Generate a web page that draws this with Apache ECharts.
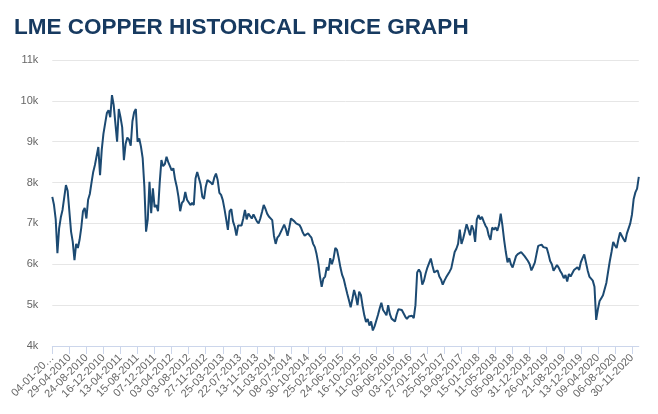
<!DOCTYPE html>
<html><head><meta charset="utf-8">
<script src="https://cdn.jsdelivr.net/npm/echarts@6/dist/echarts.min.js"></script>
<style>html,body{margin:0;padding:0;background:#fff}#c{width:658px;height:414px}</style>
</head><body><div id="c"></div>
<script>
const chartTitle = 'LME COPPER HISTORICAL PRICE GRAPH';

// x-axis tick labels (every 10th category)
const labelDates = ['04-01-2010','29-04-2010','24-08-2010','16-12-2010','13-04-2011','15-08-2011','07-12-2011',
  '03-04-2012','03-08-2012','27-11-2012','25-03-2013','22-07-2013','13-11-2013','11-03-2014','08-07-2014',
  '30-10-2014','25-02-2015','24-06-2015','16-10-2015','11-02-2016','09-06-2016','03-10-2016','27-01-2017',
  '25-05-2017','19-09-2017','15-01-2018','11-05-2018','05-09-2018','31-12-2018','26-04-2019','21-08-2019',
  '13-12-2019','09-04-2020','06-08-2020','30-11-2020'];
const stepsPerLabel = 10;
const stepsAfterLast = 4;

// LME copper price, USD/t
const prices = [
  7650,7450,7100,6270,6880,7150,7330,7290,7940,7800,
  7300,6800,6550,6100,6500,6400,6600,6900,7300,7380,
  7120,7580,7720,8000,8260,8430,8390,8870,8180,8800,
  9200,9450,9700,9770,9600,10140,9900,9450,9000,9800,
  9600,9350,8550,8950,9100,9050,8900,9500,9720,9800,
  9000,9080,8880,8600,7900,6800,7100,8020,7250,7860,
  7400,7450,7300,8000,8550,8400,8450,8630,8500,8400,
  8300,8350,8080,7900,7650,7300,7500,7550,7770,7580,
  7550,7450,7500,7450,8100,8260,8300,7950,7650,7600,
  7900,8060,8050,8000,7950,8120,8220,8060,7750,7700,
  7570,7350,7100,6840,7300,7350,7050,6920,6700,6950,
  6920,6950,7120,7330,7100,7240,7200,7120,7220,7200,
  7050,7000,7120,7280,7450,7360,7240,7170,7160,7080,
  6700,6500,6650,6700,6700,6880,6970,6860,6700,6900,
  7120,7140,7050,7000,7000,6960,6880,6770,6700,6680,
  6760,6700,6650,6500,6420,6250,6020,5700,5450,5650,
  5700,5930,5850,6150,6000,6150,6400,6350,6150,5920,
  5740,5630,5450,5280,5120,4950,5150,5370,5220,5000,
  5330,5250,4980,4750,4590,4660,4500,4600,4380,4480,
  4620,4760,4920,5060,4880,4820,4750,5000,4780,4670,
  4660,4600,4770,4900,4880,4880,4800,4720,4660,4720,
  4750,4740,4680,5000,5800,5870,5800,5500,5600,5780,
  5920,5950,6140,5960,5800,5840,5850,5700,5630,5500,
  5600,5680,5720,5820,5900,5940,6300,6380,6500,6850,
  6500,6630,6800,6980,6850,6710,6950,6850,6550,7100,
  7200,7100,7160,7050,6950,6880,6700,6600,6900,6850,
  6900,6820,6960,7240,6950,6600,6300,6050,6150,6000,
  5920,5880,6200,6250,6220,6300,6250,6200,6180,6080,
  6000,5850,5940,6040,6250,6450,6450,6480,6420,6450,
  6400,6250,6080,6000,5840,5880,5980,5920,5830,5760,
  5660,5740,5580,5760,5700,5720,5860,5880,5930,5860,
  6050,6150,6240,6200,5850,5700,5650,5600,5450,4640,
  4900,5100,5170,5240,5250,5550,5820,6080,6300,6550,
  6460,6400,6600,6780,6780,6620,6550,6750,6750,7000,
  7220,7600,7760,7850,8140
];

const yMin = 4000, yMax = 11000, yStep = 1000;

// build category names (dates) between the labelled dates
function parseD(s){const p=s.split('-').map(Number);return Date.UTC(p[2],p[1]-1,p[0]);}
function pad(n){return (n<10?'0':'')+n;}
function fmtD(t){const d=new Date(t);return pad(d.getUTCDate())+'-'+pad(d.getUTCMonth()+1)+'-'+d.getUTCFullYear();}
const categories = [];
for (let i = 0; i < labelDates.length - 1; i++) {
  const a = parseD(labelDates[i]), b = parseD(labelDates[i+1]);
  for (let j = 0; j < stepsPerLabel; j++) {
    categories.push(j === 0 ? labelDates[i] : fmtD(a + (b - a) * j / stepsPerLabel));
  }
}
const lastD = parseD(labelDates[labelDates.length-1]);
const prevD = parseD(labelDates[labelDates.length-2]);
categories.push(labelDates[labelDates.length-1]);
for (let j = 1; j <= stepsAfterLast; j++) categories.push(fmtD(lastD + (lastD - prevD) * j / stepsPerLabel));

const chart = echarts.init(document.getElementById('c'), null, {renderer: 'canvas'});
chart.setOption({
  animation: false,
  backgroundColor: '#ffffff',
  title: {
    text: chartTitle, left: 9, top: 11,
    textStyle: {fontFamily: '"Liberation Sans", Arial, sans-serif', fontSize: 22.5, fontWeight: 'bold', color: '#173a60'}
  },
  grid: {left: 52.3, right: 19.2, top: 60, bottom: 68, containLabel: false},
  xAxis: {
    type: 'category', data: categories, boundaryGap: false,
    axisLine: {lineStyle: {color: '#ccd6eb', width: 1}},
    axisTick: {show: true, interval: stepsPerLabel - 1, length: 8, lineStyle: {color: '#ccd6eb'}},
    axisLabel: {
      interval: stepsPerLabel - 1, rotate: 45, margin: 10,
      fontFamily: '"Liberation Sans", Arial, sans-serif', fontSize: 11, color: '#666666',
      formatter: function (v, i) { return i === 0 ? v.slice(0, 8) + '…' : v; }
    },
    splitLine: {show: false}
  },
  yAxis: {
    type: 'value', min: yMin, max: yMax, interval: yStep,
    axisLine: {show: false}, axisTick: {show: false},
    axisLabel: {
      margin: 14, fontFamily: '"Liberation Sans", Arial, sans-serif', fontSize: 11, color: '#666666',
      formatter: function (v) { return (v / 1000) + 'k'; }
    },
    splitLine: {lineStyle: {color: '#e6e6e6', width: 1}}
  },
  series: [{
    type: 'line', data: prices, showSymbol: false, symbol: 'none',
    lineStyle: {color: '#1c4a72', width: 2},
    itemStyle: {color: '#1c4a72'}
  }]
});
</script>
</body></html>
